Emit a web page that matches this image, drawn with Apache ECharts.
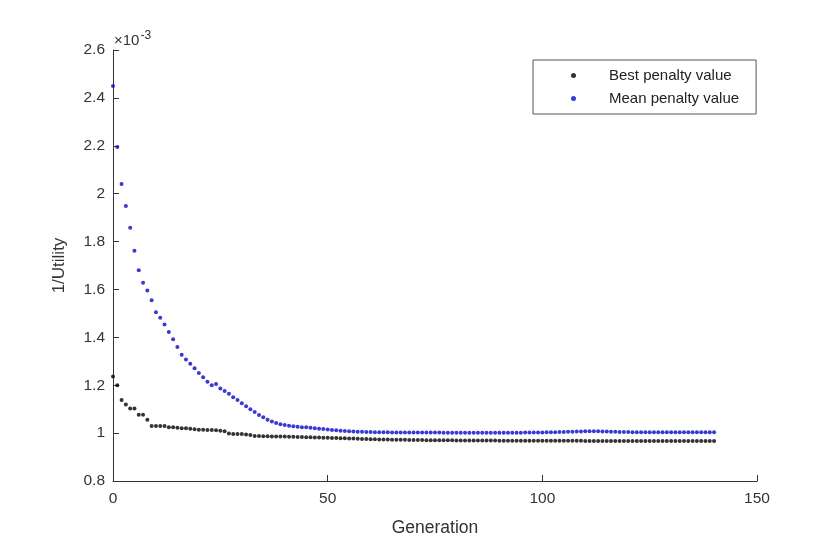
<!DOCTYPE html>
<html>
<head>
<meta charset="utf-8">
<title>Penalty value by generation</title>
<script src="https://cdn.jsdelivr.net/npm/echarts@6/dist/echarts.min.js"></script>
<style>
  html, body { margin: 0; padding: 0; background: #fff; }
  #main { width: 817px; height: 542px; }
</style>
</head>
<body>
<div id="main"></div>
<script>
// values in units of 1e-3, one per generation starting at 0
var bestPenalty = [
  1.236, 1.200, 1.138, 1.120, 1.103, 1.103, 1.077, 1.077, 1.056, 1.030,
  1.030, 1.030, 1.030, 1.024, 1.024, 1.022, 1.020, 1.020, 1.018, 1.016,
  1.014, 1.014, 1.013, 1.013, 1.012, 1.010, 1.008, 0.998, 0.996, 0.996,
  0.996, 0.994, 0.992, 0.988, 0.988, 0.987, 0.987, 0.986, 0.986, 0.986,
  0.986, 0.985, 0.985, 0.984, 0.984, 0.983, 0.983, 0.982, 0.982, 0.981,
  0.981, 0.980, 0.980, 0.979, 0.979, 0.978, 0.977, 0.976, 0.975, 0.975,
  0.974, 0.974, 0.973, 0.973, 0.973, 0.972, 0.972, 0.972, 0.972, 0.971,
  0.971, 0.971, 0.971, 0.970, 0.970, 0.970, 0.970, 0.970, 0.970, 0.970,
  0.969, 0.969, 0.969, 0.969, 0.969, 0.969, 0.969, 0.969, 0.969, 0.969,
  0.968, 0.968, 0.968, 0.968, 0.968, 0.968, 0.968, 0.968, 0.968, 0.968,
  0.968, 0.968, 0.968, 0.968, 0.968, 0.968, 0.968, 0.968, 0.968, 0.968,
  0.967, 0.967, 0.967, 0.967, 0.967, 0.967, 0.967, 0.967, 0.967, 0.967,
  0.967, 0.967, 0.967, 0.967, 0.967, 0.967, 0.967, 0.967, 0.967, 0.967,
  0.967, 0.967, 0.967, 0.967, 0.967, 0.967, 0.967, 0.967, 0.967, 0.967,
  0.967
];
var meanPenalty = [
  2.450, 2.195, 2.040, 1.948, 1.858, 1.762, 1.680, 1.628, 1.596, 1.555,
  1.505, 1.482, 1.454, 1.422, 1.392, 1.360, 1.327, 1.307, 1.290, 1.271,
  1.251, 1.233, 1.215, 1.200, 1.205, 1.186, 1.176, 1.164, 1.150, 1.138,
  1.125, 1.112, 1.100, 1.088, 1.076, 1.066, 1.056, 1.048, 1.042, 1.037,
  1.034, 1.031, 1.029, 1.027, 1.025, 1.024, 1.022, 1.020, 1.018, 1.017,
  1.015, 1.013, 1.012, 1.010, 1.009, 1.008, 1.007, 1.006, 1.006, 1.005,
  1.005, 1.004, 1.004, 1.004, 1.004, 1.003, 1.003, 1.003, 1.003, 1.003,
  1.003, 1.003, 1.003, 1.003, 1.003, 1.003, 1.003, 1.002, 1.002, 1.002,
  1.002, 1.002, 1.002, 1.002, 1.002, 1.002, 1.002, 1.002, 1.002, 1.002,
  1.002, 1.002, 1.002, 1.002, 1.002, 1.002, 1.003, 1.003, 1.003, 1.003,
  1.003, 1.004, 1.004, 1.004, 1.005, 1.005, 1.006, 1.006, 1.007, 1.007,
  1.008, 1.008, 1.008, 1.008, 1.007, 1.007, 1.006, 1.006, 1.005, 1.005,
  1.005, 1.004, 1.004, 1.004, 1.004, 1.004, 1.004, 1.004, 1.004, 1.004,
  1.004, 1.004, 1.004, 1.004, 1.004, 1.004, 1.004, 1.004, 1.004, 1.004,
  1.004
];
var seriesNames = ['Best penalty value', 'Mean penalty value'];

function toPoints(values) {
  return values.map(function (v, i) { return [i, v]; });
}

var font = 'Liberation Sans, Arial, sans-serif';
var axisColor = '#333';
var textColor = '#333';

var chart = echarts.init(document.getElementById('main'));
chart.setOption({
  animation: false,
  backgroundColor: '#fff',
  grid: { left: 113, top: 50, right: 60, bottom: 60, containLabel: false },
  legend: {
    orient: 'vertical',
    left: 533,
    top: 60,
    data: seriesNames,
    icon: 'circle',
    itemWidth: 5,
    itemHeight: 5,
    itemGap: 8,
    padding: [8, 17, 8, 38],
    borderColor: '#555',
    borderWidth: 1,
    backgroundColor: '#fff',
    textStyle: { fontFamily: font, fontSize: 15, color: '#222', padding: [0, 0, 0, 28] }
  },
  graphic: [{
    type: 'text',
    left: 114,
    top: 30,
    style: {
      text: '{a|×10}{b|-3}',
      fill: textColor,
      rich: {
        a: { fontFamily: font, fontSize: 15, fill: textColor, verticalAlign: 'bottom' },
        b: { fontFamily: font, fontSize: 12, fill: textColor, verticalAlign: 'top', padding: [0, 0, 6, 1] }
      }
    }
  }],
  xAxis: {
    type: 'value',
    min: 0,
    max: 150,
    interval: 50,
    name: 'Generation',
    nameLocation: 'middle',
    nameGap: 38,
    nameTextStyle: { fontFamily: font, fontSize: 17.5, color: textColor },
    axisLine: { lineStyle: { color: axisColor, width: 1 } },
    axisTick: { inside: true, length: 6, lineStyle: { color: axisColor } },
    axisLabel: { fontFamily: font, fontSize: 15.5, color: textColor, margin: 10 },
    splitLine: { show: false }
  },
  yAxis: {
    type: 'value',
    min: 0.8,
    max: 2.6,
    interval: 0.2,
    name: '1/Utility',
    nameLocation: 'middle',
    nameGap: 45,
    nameTextStyle: { fontFamily: font, fontSize: 17, color: textColor },
    axisLine: { show: true, lineStyle: { color: axisColor, width: 1 } },
    axisTick: { show: true, inside: true, length: 6, lineStyle: { color: axisColor } },
    axisLabel: {
      fontFamily: font, fontSize: 15.5, color: textColor, margin: 8,
      formatter: function (v) { return String(+v.toFixed(1)); }
    },
    splitLine: { show: false }
  },
  series: [{
    name: seriesNames[0],
    type: 'scatter',
    symbol: 'circle',
    symbolSize: 4,
    itemStyle: { color: '#000000' },
    data: toPoints(bestPenalty)
  }, {
    name: seriesNames[1],
    type: 'scatter',
    symbol: 'circle',
    symbolSize: 4,
    itemStyle: { color: '#0808c8' },
    data: toPoints(meanPenalty)
  }]
});
</script>
</body>
</html>
